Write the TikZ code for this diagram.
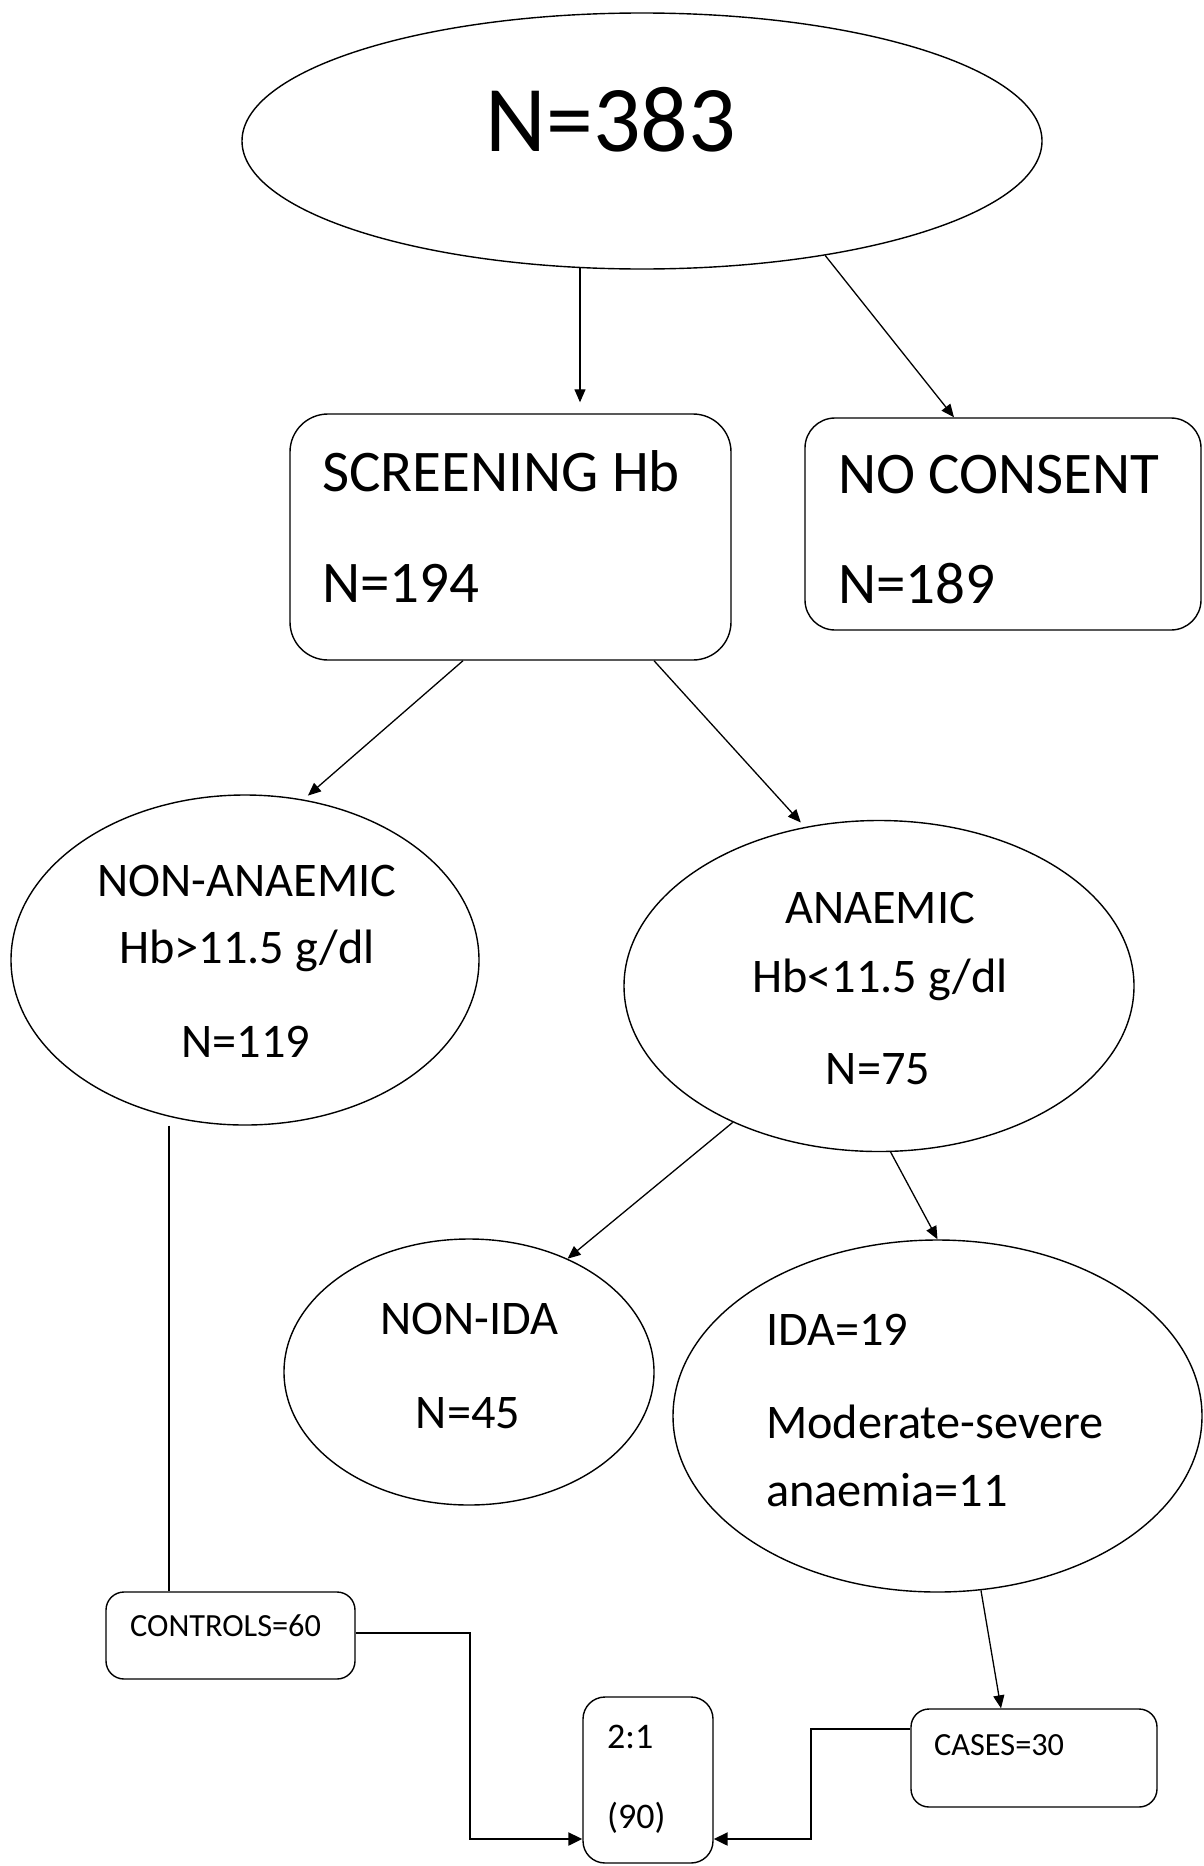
\documentclass[tikz,border=0pt]{standalone}
\usepackage{fontspec}
\setmainfont{Carlito}
\usetikzlibrary{shapes.geometric,arrows.meta,calc}

\begin{document}
\begin{tikzpicture}[x=1pt,y=-1pt,
  ell/.style={draw,ellipse,inner sep=0pt,line width=1.4pt},
  rbox/.style={draw,rectangle,inner sep=0pt,line width=1.4pt},
  arr/.style={-{Triangle[length=13pt,width=11pt]},line width=1.3pt},
  elb/.style={-{Triangle[length=14pt,width=13pt]},line width=2.2pt},
  plain/.style={line width=1.3pt},
  txt/.style={inner sep=0pt},
  fhuge/.style={font=\fontsize{94}{94}\selectfont},
  fbig/.style={font=\fontsize{59}{62}\selectfont},
  fmid/.style={font=\fontsize{48.3}{50}\selectfont},
  fsmall/.style={font=\fontsize{32.3}{34}\selectfont},
  fratio/.style={font=\fontsize{36}{38}\selectfont},
]
\useasboundingbox (0,0) rectangle (1203,1866);

% shapes
\node[ell,minimum width=800pt,minimum height=256pt] (top) at (642,141) {};
\node[rbox,rounded corners=38pt,minimum width=441pt,minimum height=246pt] (scr) at (510.5,537) {};
\node[rbox,rounded corners=30pt,minimum width=396pt,minimum height=212pt] (nc) at (1003,524) {};
\node[ell,minimum width=468pt,minimum height=330pt] (nana) at (245,960) {};
\node[ell,minimum width=510pt,minimum height=331pt] (ana) at (879,986) {};
\node[ell,minimum width=370pt,minimum height=266pt] (nida) at (469,1372) {};
\node[ell,minimum width=529pt,minimum height=352pt] (ida) at (937.5,1416) {};
\node[rbox,rounded corners=18pt,minimum width=249pt,minimum height=87pt] (ctrl) at (230.5,1635.5) {};
\node[rbox,rounded corners=22pt,minimum width=130pt,minimum height=166pt] (ratio) at (648,1780) {};
\node[rbox,rounded corners=18pt,minimum width=246pt,minimum height=98pt] (cases) at (1034,1758) {};

% texts
\node[txt,fhuge,anchor=base] (t383) at (611,151) {N=383};
\node[txt,fbig,anchor=base west] (tscr1) at (322,491) {SCREENING Hb};
\node[txt,fbig,anchor=base west] (tscr2) at (322,602) {N=194};
\node[txt,fbig,anchor=base west] (tnc1) at (838,493) {NO CONSENT};
\node[txt,fbig,anchor=base west] (tnc2) at (838,603) {N=189};
\node[txt,fmid,anchor=base] (tna1) at (247,896) {NON-ANAEMIC};
\node[txt,fmid,anchor=base] (tna2) at (247,963) {Hb>11.5 g/dl};
\node[txt,fmid,anchor=base] (tna3) at (246,1057) {N=119};
\node[txt,fmid,anchor=base] (ta1) at (880,923) {ANAEMIC};
\node[txt,fmid,anchor=base] (ta2) at (880,992) {Hb<11.5 g/dl};
\node[txt,fmid,anchor=base] (ta3) at (878,1084) {N=75};
\node[txt,fmid,anchor=base] (tni1) at (469.5,1334) {NON-IDA};
\node[txt,fmid,anchor=base] (tni2) at (468,1428) {N=45};
\node[txt,fmid,anchor=base west] (ti1) at (766,1345) {IDA=19};
\node[txt,fmid,anchor=base west] (ti2) at (766,1438) {Moderate-severe};
\node[txt,fmid,anchor=base west] (ti3) at (766,1506) {anaemia=11};
\node[txt,fsmall,anchor=base west] (tc) at (130,1636) {CONTROLS=60};
\node[txt,fratio,anchor=base west] (tr1) at (607,1748) {2:1};
\node[txt,fratio,anchor=base west] (tr2) at (607,1828) {(90)};
\node[txt,fsmall,anchor=base west] (tcs) at (934,1755) {CASES=30};

% connectors
\draw[arr,shorten >=11pt] (top.244.7) -- (top.244.7 |- scr.north);
\draw[arr] (top.328.6) -- ([xshift=-49pt]nc.north);
\draw[arr,shorten >=6pt] ([xshift=-47.5pt]scr.south) -- (nana.70);
\draw[arr,shorten >=6pt] ([xshift=143.5pt]scr.south) -- (ana.115);
\draw[arr] (ana.223.8) -- (nida.49.4);
\draw[arr] (ana.274.5) -- (ida.north);
\draw[arr] (ida.284.4) -- ([xshift=-33pt]cases.north);
\draw[plain] ([xshift=-61.5pt]ctrl.north |- nana.south) -- ([xshift=-61.5pt]ctrl.north);
\draw[elb] ([yshift=2.5pt]ctrl.east) -- ++(114,0) |- ([yshift=-59pt]ratio.west);
\draw[elb] ([yshift=29pt]cases.west) -- ++(-99,0) |- ([yshift=-59pt]ratio.east);
\end{tikzpicture}
\end{document}
